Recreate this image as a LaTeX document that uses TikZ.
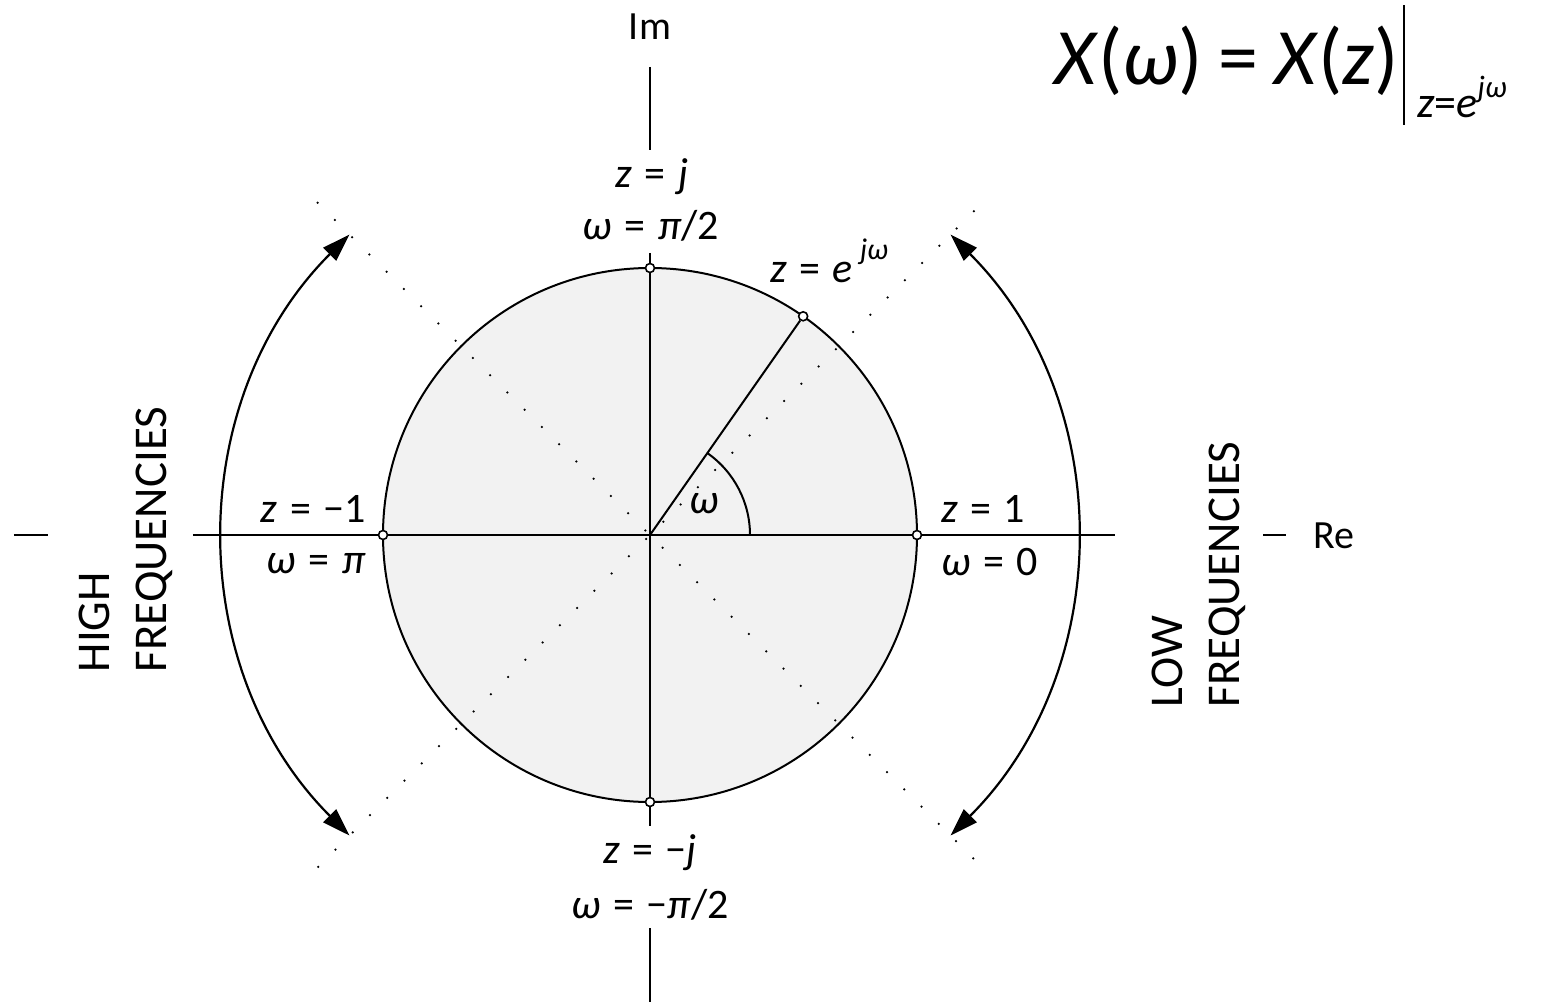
\documentclass[tikz,border=0pt]{standalone}
\usepackage{fontspec}
\setmainfont{Carlito}
\usetikzlibrary{arrows.meta}
\definecolor{diskfill}{RGB}{242,242,242}
\newcommand{\eqsp}{\hspace{.3em}=\hspace{.3em}}

\begin{document}
\begin{tikzpicture}[
        x=1pt, y=1pt,
        axis/.style={line width=2.4pt, black},
        rim/.style={line width=2pt, draw=black, fill=diskfill},
        diag/.style={line width=2.5pt, line cap=round, dash pattern=on 0pt off 24.4pt},
        freqarc/.style={{Triangle[length=28pt,width=18pt]}-{Triangle[length=28pt,width=18pt]},
                        line width=2.2pt},
        pt/.style={circle, draw, line width=1.6pt, fill=white, inner sep=0pt, minimum size=9pt},
        lbl/.style={inner sep=0pt, font=\fontsize{42}{48}\selectfont},
        axlbl/.style={inner sep=0pt, font=\fontsize{40}{48}\selectfont},
        bandlbl/.style={inner sep=0pt, rotate=90, align=left,
                        font=\fontsize{47}{57}\selectfont},
    ]

    \useasboundingbox (-650,-467) rectangle (891,535);

    % ---------- unit circle ----------------------------------------------
    \coordinate (origin) at (0,0);
    \draw[rim] (origin) circle[radius=267];

    \draw[diag] (135:470) -- (-45:460);
    \draw[diag] (45:458) -- (225:472);

    % ---------- axes -------------------------------------------------------
    \coordinate (imtop)  at (0,468);
    \coordinate (imgap1) at (0,385);
    \coordinate (imgap2) at (0,282);
    \coordinate (imgap3) at (0,-291);
    \coordinate (imgap4) at (0,-393);
    \coordinate (imbot)  at (0,-467);
    \draw[axis] (imtop) -- (imgap1);
    \draw[axis] (imgap2) -- (imgap3);
    \draw[axis] (imgap4) -- (imbot);

    \coordinate (releft)  at (-636,0);
    \coordinate (regap1)  at (-602,0);
    \coordinate (regap2)  at (-457,0);
    \coordinate (regap3)  at (465,0);
    \coordinate (regap4)  at (613,0);
    \coordinate (reright) at (636,0);
    \draw[axis] (releft) -- (regap1);
    \draw[axis] (regap2) -- (regap3);
    \draw[axis] (regap4) -- (reright);

    % ---------- angle omega --------------------------------------------------
    \node[pt] (pz) at (55:267) {};
    \draw[line width=2pt] (origin) -- (pz);
    \draw[line width=2pt] (0:100) arc[start angle=0, end angle=55, radius=100];
    \node[lbl] (anglab) at (54,31) {\textit{ω}};

    \node[pt] (pone)  at (0:267)   {};
    \node[pt] (pj)    at (90:267)  {};
    \node[pt] (pmone) at (180:267) {};
    \node[pt] (pmj)   at (270:267) {};

    % ---------- frequency bands -------------------------------------------
    \draw[freqarc] (45:425) arc[start angle=45, end angle=-45, radius=425];
    \draw[freqarc] (135:425) arc[start angle=135, end angle=225, radius=425];

    \node[bandlbl] (high) at (-524,-4.5) {HIGH\\FREQUENCIES};
    \node[bandlbl] (low)  at (548.5,-39.5) {LOW\\FREQUENCIES};

    % ---------- point labels ---------------------------------------------
    \node[axlbl, anchor=base] (imlab) at (0,495) {Im};
    \node[axlbl, anchor=base west] (relab) at (663,-13) {Re};

    \node[lbl, anchor=base] (zj)   at (2,347)  {\textit{z}\eqsp\textit{j}};
    \node[lbl, anchor=base] (wj)   at (1,295)  {\textit{ω}\eqsp\textit{π}/2};
    \node[lbl, anchor=base] (zmj)  at (0,-328) {\textit{z}\eqsp−\textit{j}};
    \node[lbl, anchor=base] (wmj)  at (0,-383) {\textit{ω}\eqsp−\textit{π}/2};
    \node[lbl, anchor=base east] (zmone) at (-284,13)  {\textit{z}\eqsp−1};
    \node[lbl, anchor=base east] (wmone) at (-284,-38) {\textit{ω}\eqsp\textit{π}};
    \node[lbl, anchor=base west] (zone)  at (291,13)   {\textit{z}\eqsp1};
    \node[lbl, anchor=base west] (wone)  at (291,-40)  {\textit{ω}\eqsp0};
    \node[lbl, anchor=base west] (zexp)  at (120,253)
        {\textit{z}\eqsp\textit{e}\hspace{7pt}\raisebox{22pt}{\fontsize{30}{30}\selectfont\textit{jω}}};

    % ---------- DTFT relation ---------------------------------------------
    \node[inner sep=0pt, anchor=base west] (dtft) at (404,450)
        {\fontsize{80}{80}\selectfont\textit{X}(\textit{ω})\hspace{.2em}=\hspace{.2em}\textit{X}(\textit{z})\hspace{4pt}\rule[-40pt]{2.5pt}{120pt}\hspace{12pt}\raisebox{-33pt}{\fontsize{44}{44}\selectfont\textit{z}=\textit{e}\raisebox{20pt}{\fontsize{31}{31}\selectfont\textit{jω}}}};

\end{tikzpicture}
\end{document}
